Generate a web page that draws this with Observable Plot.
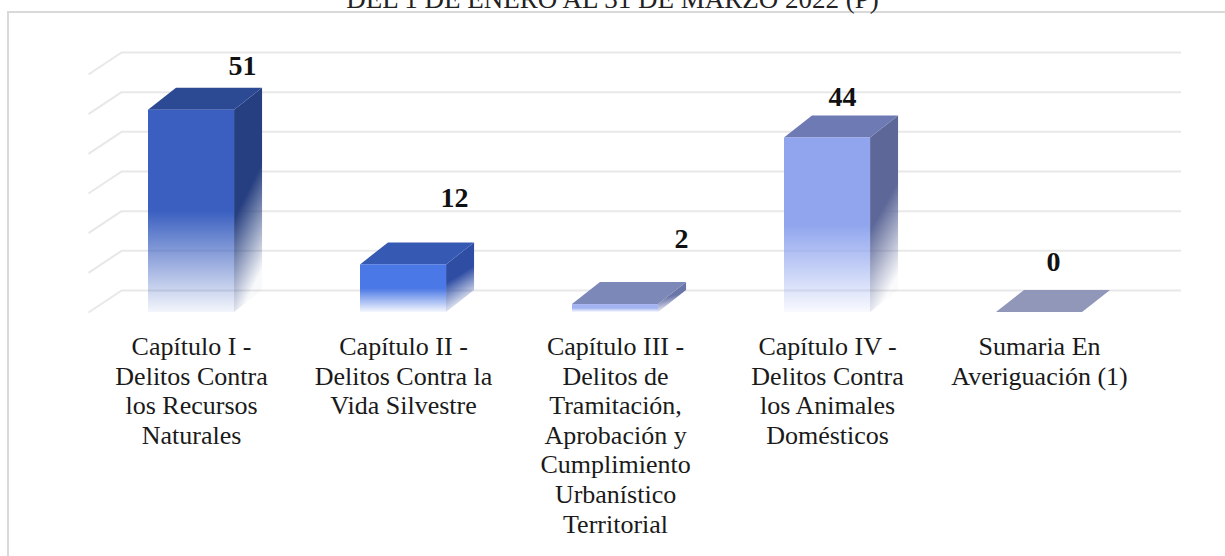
<!DOCTYPE html>
<html>
<head>
<meta charset="utf-8">
<script src="https://cdn.jsdelivr.net/npm/d3@7"></script>
<script src="https://cdn.jsdelivr.net/npm/@observablehq/plot@0.6"></script>
<style>
html, body { margin: 0; padding: 0; background: #fff; width: 1225px; height: 556px; overflow: hidden; position: relative; font-family: "Liberation Serif", serif; }
#frame { position: absolute; left: 7px; top: 11px; width: 1400px; height: 800px; border-left: 2px solid #d9d9d9; border-top: 2px solid #d9d9d9; box-sizing: border-box; }
#title { position: absolute; left: 0; top: -14px; width: 1225px; text-align: center; font-size: 27px; line-height: 27px; color: #222; white-space: nowrap; }
#chart { position: absolute; left: 0; top: 0; }
</style>
</head>
<body>
<div id="frame"></div>
<div id="title">DEL 1 DE ENERO AL 31 DE MARZO 2022 (P)</div>
<div id="chart"></div>
<script>
// ---- data ----
const categories = [
  "Capítulo I -\nDelitos Contra\nlos Recursos\nNaturales",
  "Capítulo II -\nDelitos Contra la\nVida Silvestre",
  "Capítulo III -\nDelitos de\nTramitación,\nAprobación y\nCumplimiento\nUrbanístico\nTerritorial",
  "Capítulo IV -\nDelitos Contra\nlos Animales\nDomésticos",
  "Sumaria En\nAveriguación (1)"
];
const values = [51, 12, 2, 44, 0];
const gridTicks = [0, 10, 20, 30, 40, 50, 60];

// ---- styles ----
const frontColors = ["#3a5fc0", "#4a78e6", "#a3b3f2", "#90a5ee", "#9097b8"];
const sideColors  = ["#263f80", "#2f4da3", "#6a75a8", "#5d6898", "#9097b8"];
const topColors   = ["#2c4993", "#3659b3", "#7c88b8", "#6d7ab4", "#9097b8"];
// pixel nudges of value labels (dx, dy) relative to the back-top centre of each bar
const labelNudge = [[37, -22], [37, -45], [52, -44], [1, -19], [0, -28]];

// 3-D geometry (in scale units)
const barLeft = 0.283, barRight = 0.689, barDX = 0.132, depthY = 5.546, wallDX = 0.156;

const marks = [];
// floor / wall grid
marks.push(Plot.link(gridTicks, {x1: 0, x2: wallDX, y1: d => d, y2: d => d + depthY, stroke: "#e8e8e8", strokeWidth: 2}));
marks.push(Plot.ruleY(gridTicks, {y: d => d + depthY, x1: wallDX, x2: 5 + wallDX, stroke: "#e8e8e8", strokeWidth: 2}));

values.forEach((v, i) => {
  const x1 = i + barLeft, x2 = i + barRight;
  marks.push(Plot.areaY([{x: x2, y1: 0, y2: v}, {x: x2 + barDX, y1: depthY, y2: v + depthY}],
    {x: "x", y1: "y1", y2: "y2", fill: `url(#side${i})`}));
  marks.push(Plot.areaX([{y: v, x1: x1, x2: x2}, {y: v + depthY, x1: x1 + barDX, x2: x2 + barDX}],
    {y: "y", x1: "x1", x2: "x2", fill: topColors[i]}));
  if (v > 0) {
    marks.push(Plot.rect([{x1, x2, y1: 0, y2: v}],
      {x1: "x1", x2: "x2", y1: "y1", y2: "y2", fill: `url(#front${i})`}));
  }
  marks.push(Plot.text([{x: i + (barLeft + barRight + barDX) / 2, y: v + depthY, t: String(v)}], {
    x: "x", y: "y", text: "t", dx: labelNudge[i][0], dy: labelNudge[i][1],
    fontSize: 28, fontWeight: "bold", fill: "#111", fontFamily: "Liberation Serif"
  }));
});

marks.push(Plot.text(categories, {
  x: (d, i) => i + (barLeft + barRight) / 2, y: () => 0, text: d => d,
  lineAnchor: "top", dy: 22, fontSize: 26, lineHeight: 1.135,
  fill: "#1a1a1a", fontFamily: "Liberation Serif"
}));

const chart = Plot.plot({
  width: 1225,
  height: 556,
  x: {domain: [0, 5], range: [88, 1148], axis: null},
  y: {domain: [0, 70], range: [312, 312 - 70 * 3.967], axis: null},
  style: {background: "transparent", overflow: "visible", fontFamily: "Liberation Serif"},
  marks
});

// gradients
const defs = d3.select(chart).insert("defs", ":first-child");
values.forEach((v, i) => {
  const gf = defs.append("linearGradient").attr("id", `front${i}`)
    .attr("x1", 0).attr("y1", 0).attr("x2", 0).attr("y2", 1);
  gf.append("stop").attr("offset", "0%").attr("stop-color", frontColors[i]);
  gf.append("stop").attr("offset", "50%").attr("stop-color", frontColors[i]);
  gf.append("stop").attr("offset", "100%").attr("stop-color", frontColors[i]).attr("stop-opacity", 0.06);
  const gs = defs.append("linearGradient").attr("id", `side${i}`)
    .attr("x1", 0).attr("y1", 0).attr("x2", 0.25).attr("y2", 1);
  gs.append("stop").attr("offset", "0%").attr("stop-color", sideColors[i]);
  gs.append("stop").attr("offset", "55%").attr("stop-color", sideColors[i]);
  gs.append("stop").attr("offset", "100%").attr("stop-color", sideColors[i]).attr("stop-opacity", 0.03);
});

document.getElementById("chart").appendChild(chart);
</script>
</body>
</html>
